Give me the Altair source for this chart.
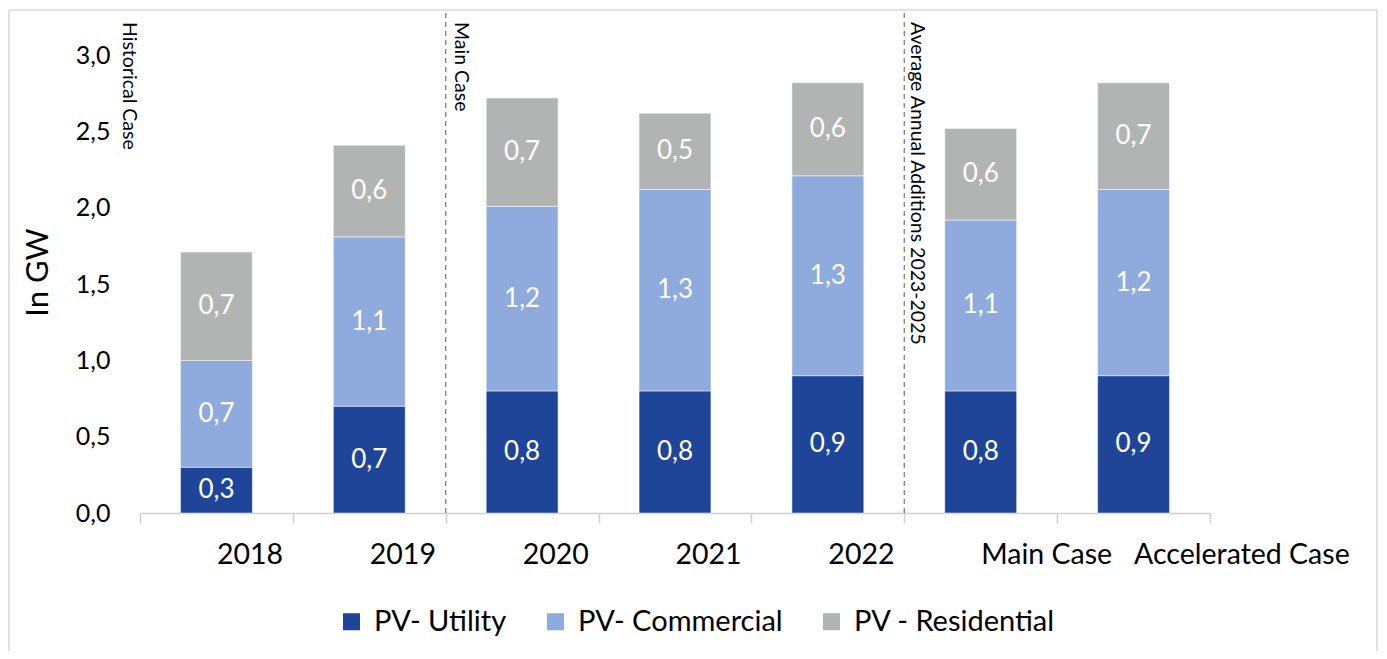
import altair as alt
import pandas as pd

categories = ["2018", "2019", "2020", "2021", "2022", "Main Case", "Accelerated Case"]
utility = [0.30, 0.70, 0.80, 0.80, 0.90, 0.80, 0.90]
commercial = [0.70, 1.11, 1.21, 1.32, 1.31, 1.12, 1.22]
residential = [0.71, 0.60, 0.71, 0.50, 0.61, 0.60, 0.70]
series = ["PV- Utility", "PV- Commercial", "PV - Residential"]
colors = ["#1F4599", "#8FAADC", "#B2B4B4"]
y_ticks = [0.0, 0.5, 1.0, 1.5, 2.0, 2.5, 3.0]
divider_cats = ["2020", "Main Case"]
annotations = ["Historical Case", "Main Case", "Average Annual Additions 2023-2025"]
annotation_cats = ["2018", "2020", "Main Case"]
annotation_band = [0.0, 0.1, 0.083]
annotation_shift = [11, 0, 0]  # rotated-frame dy (positive moves text left)

rows = []
for i, c in enumerate(categories):
    for j, (s, vals) in enumerate(zip(series, [utility, commercial, residential])):
        rows.append({"cat": c, "series": s, "order": j, "value": vals[i]})
df = pd.DataFrame(rows)

W, H = 1070, 502
FONT = "Lato"
xscale = alt.Scale(domain=categories, paddingInner=0, paddingOuter=0)
yscale = alt.Scale(domain=[0, 3.29], nice=False, zero=True)
fmt = "replace(format(datum.value, '.1f'), '.', ',')"

base = alt.Chart(df).transform_stack(
    stack="value", groupby=["cat"], sort=[alt.SortField("order")], as_=["y0", "y1"]
).transform_calculate(
    mid="(datum.y0 + datum.y1) / 2",
    lbl="replace(format(datum.value, '.1f'), '.', ',')",
)

bars = base.mark_bar(
    width=alt.RelativeBandSize(0.47), stroke="white", strokeWidth=0.8, strokeOpacity=0.6
).encode(
    x=alt.X(
        "cat:N", scale=xscale, sort=categories,
        axis=alt.Axis(
            title=None, tickBand="extent", labelAlign="left", labelAngle=0,
            labelFontSize=28.5, labelColor="black", labelPadding=17, labelBaseline="top",
            tickSize=10, tickColor="#D0D0D0", tickWidth=1.5,
            domainColor="#D0D0D0", domainWidth=1.5, grid=False,
            labelOverlap=False, labelLimit=400,
        ),
    ),
    y=alt.Y(
        "y0:Q", scale=yscale,
        axis=alt.Axis(
            title="In GW", values=y_ticks, labelExpr=fmt, domain=False, ticks=False,
            grid=False, labelPadding=30, labelFontSize=25, labelColor="black",
            titleFontSize=31, titleFontWeight="normal", titleColor="black",
            titleX=-86, titleY=261, titleAlign="center", titleAngle=-90,
        ),
    ),
    y2="y1:Q",
    color=alt.Color(
        "series:N", scale=alt.Scale(domain=series, range=colors),
        legend=alt.Legend(
            title=None, orient="none", legendX=197, legendY=596, direction="horizontal",
            symbolType="square", symbolSize=289, symbolStrokeWidth=0,
            labelFontSize=29, labelColor="black", labelOffset=8, columnPadding=34,
            labelLimit=400,
        ),
    ),
)

labels = base.mark_text(color="white", fontSize=26).encode(
    x=alt.X("cat:N", scale=xscale, sort=categories),
    y=alt.Y("mid:Q", scale=yscale),
    text="lbl:N",
)

rules = alt.Chart(pd.DataFrame({"cat": divider_cats})).mark_rule(
    strokeDash=[5, 4], color="#808080", strokeWidth=1.3
).encode(
    x=alt.X("cat:N", scale=xscale, sort=categories, bandPosition=0),
    y=alt.value(2),
    y2=alt.value(H),
)

ann_layers = []
for txt, cat, bp, sh in zip(annotations, annotation_cats, annotation_band, annotation_shift):
    ann_layers.append(
        alt.Chart(pd.DataFrame({"cat": [cat], "t": [txt]})).mark_text(
            angle=90, align="left", baseline="middle", fontSize=19.5, color="black", dy=sh
        ).encode(
            x=alt.X("cat:N", scale=xscale, sort=categories, bandPosition=bp),
            y=alt.value(11),
            text="t:N",
        )
    )

frame_data = alt.Chart(pd.DataFrame({"a": [0]}))
frame_left = frame_data.mark_rule(color="#D9D9D9", strokeWidth=1.5).encode(
    x=alt.value(-131), y=alt.value(-1), y2=alt.value(H + 140)
)
frame_top = frame_data.mark_rule(color="#D9D9D9", strokeWidth=1.5).encode(
    x=alt.value(-131), x2=alt.value(1237), y=alt.value(-1)
)
frame_right = frame_data.mark_rule(color="#D9D9D9", strokeWidth=1.5).encode(
    x=alt.value(1237), y=alt.value(-1), y2=alt.value(H + 140)
)

chart = alt.layer(
    frame_left, frame_top, frame_right, bars, labels, rules, *ann_layers
).properties(
    width=W, height=H,
    padding={"left": 132, "top": 3, "right": 169, "bottom": 138},
    autosize=alt.AutoSizeParams(type="none"),
    background="white",
).configure(font=FONT).configure_view(stroke=None)

chart.save("out.html", embed_options={"renderer": "svg", "actions": False})
